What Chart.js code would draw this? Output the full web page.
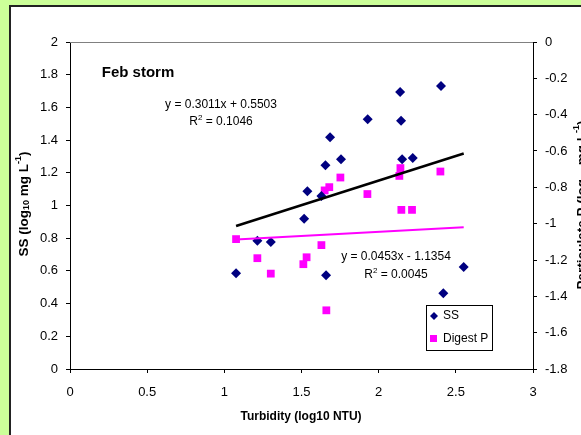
<!DOCTYPE html>
<html>
<head>
<meta charset="utf-8">
<script src="https://cdn.jsdelivr.net/npm/chart.js@4/dist/chart.umd.min.js"></script>
<style>
  html, body { margin: 0; padding: 0; background: #ccff99; }
  #wrap { width: 581px; height: 435px; }
</style>
</head>
<body>
<div id="wrap"><canvas id="chart" width="581" height="435"></canvas></div>
<script>
// ---------- Data ----------
const ssTurb = [2.404, 2.139, 1.929, 2.145, 1.685, 1.756, 2.152, 2.221, 1.655, 1.538,
                1.629, 1.517, 1.214, 1.301, 1.076, 1.659, 2.551, 2.419];
const ssLog  = [1.731, 1.694, 1.527, 1.519, 1.417, 1.283, 1.283, 1.290, 1.246, 1.087,
                1.058, 0.919, 0.785, 0.777, 0.585, 0.573, 0.624, 0.463];

const pTurb = [2.141, 2.134, 2.400, 1.752, 1.680, 1.650, 1.927, 2.147,
               2.216, 1.076, 1.214, 1.301, 1.629, 1.533, 1.512, 1.661];
const pLog  = [-0.694, -0.737, -0.713, -0.746, -0.799, -0.817, -0.837, -0.924,
               -0.924, -1.085, -1.190, -1.275, -1.118, -1.185, -1.223, -1.477];

// trendline coefficients as printed on the chart
const ssFit = { slope: 0.3011, icpt: 0.5503, r2: "0.1046" };
const pFit  = { slope: 0.0453, icpt: -1.1354, r2: "0.0045" };
const fitX  = [1.076, 2.551]; // trendlines span the turbidity range

const xTickStep = 0.5;
const seriesNames = ["SS", "Digest P"];

const FONT = 'Arial, "Liberation Sans", sans-serif';
const NAVY = "#000080";
const PINK = "#ff00ff";

function pts(xs, ys) { return xs.map((x, i) => ({ x: x, y: ys[i] })); }
function fitLine(f) { return fitX.map(x => ({ x: x, y: f.slope * x + f.icpt })); }

// ---------- Text helpers ----------
function richWidth(ctx, parts) {
  let w = 0;
  parts.forEach(p => {
    ctx.font = (p.bold ? "bold " : "") + p.size + "px " + FONT;
    w += ctx.measureText(p.t).width;
  });
  return w;
}
function drawRich(ctx, parts, cx, cy, rot) {
  ctx.save();
  ctx.translate(cx, cy);
  if (rot) ctx.rotate(rot);
  const w = richWidth(ctx, parts);
  let x = -w / 2;
  ctx.fillStyle = "#000";
  ctx.textBaseline = "middle";
  ctx.textAlign = "left";
  parts.forEach(p => {
    ctx.font = (p.bold ? "bold " : "") + p.size + "px " + FONT;
    ctx.fillText(p.t, x, p.dy || 0);
    x += ctx.measureText(p.t).width;
  });
  ctx.restore();
}
function unitTitle(name) {
  return [
    { t: name + " (log", size: 13.5, bold: true },
    { t: "10", size: 9, bold: true, dy: 3 },
    { t: " mg L", size: 13.5, bold: true },
    { t: "-1", size: 9, bold: true, dy: -5 },
    { t: ")", size: 13.5, bold: true }
  ];
}

// ---------- Frame + annotations ----------
const decor = {
  id: "decor",
  beforeDraw(chart) {
    const ctx = chart.ctx;
    ctx.save();
    ctx.fillStyle = "#ccff99";
    ctx.fillRect(0, 0, 581, 435);
    ctx.fillStyle = "#fff";
    ctx.fillRect(9, 5, 600, 460);
    ctx.strokeStyle = "#222";
    ctx.lineWidth = 2;
    ctx.strokeRect(10, 6, 600, 460);
    ctx.restore();
  },
  afterDraw(chart) {
    const ctx = chart.ctx;
    const a = chart.chartArea;
    ctx.save();
    // plot area top edge
    ctx.strokeStyle = "#808080";
    ctx.lineWidth = 1;
    ctx.beginPath();
    ctx.moveTo(a.left, a.top + 0.5);
    ctx.lineTo(a.right, a.top + 0.5);
    ctx.stroke();

    // axis titles
    drawRich(ctx, [{ t: "Turbidity (log10 NTU)", size: 12, bold: true }], 301, 417, 0);
    drawRich(ctx, unitTitle("SS"), 24, 204, -Math.PI / 2);
    drawRich(ctx, unitTitle("Particulate P"), 582, 205, -Math.PI / 2);

    // panel label
    drawRich(ctx, [{ t: "Feb storm", size: 15, bold: true }], 138, 73, 0);

    // trendline equations
    const eq = (f) => "y = " + f.slope.toFixed(4) + "x " + (f.icpt < 0 ? "- " : "+ ") + Math.abs(f.icpt).toFixed(4);
    drawRich(ctx, [{ t: eq(ssFit), size: 12 }], 221, 105, 0);
    drawRich(ctx, [{ t: "R", size: 12 }, { t: "2", size: 8, dy: -4 }, { t: " = " + ssFit.r2, size: 12 }], 221, 122, 0);
    drawRich(ctx, [{ t: eq(pFit), size: 12 }], 396, 257, 0);
    drawRich(ctx, [{ t: "R", size: 12 }, { t: "2", size: 8, dy: -4 }, { t: " = " + pFit.r2, size: 12 }], 396, 275, 0);

    // legend box
    ctx.fillStyle = "#fff";
    ctx.fillRect(426, 305, 66, 45);
    ctx.strokeStyle = "#000";
    ctx.lineWidth = 1;
    ctx.strokeRect(426.5, 305.5, 66, 45);
    ctx.fillStyle = NAVY;
    ctx.beginPath();
    ctx.moveTo(434, 312); ctx.lineTo(438, 316); ctx.lineTo(434, 320); ctx.lineTo(430, 316);
    ctx.closePath(); ctx.fill();
    ctx.fillStyle = PINK;
    ctx.fillRect(430, 335, 7, 7);
    ctx.fillStyle = "#000";
    ctx.font = "12px " + FONT;
    ctx.textBaseline = "middle";
    ctx.fillText(seriesNames[0], 443, 316);
    ctx.fillText(seriesNames[1], 443, 339);
    ctx.restore();
  }
};

function fmt(v) { return String(Number(v.toFixed(1))); }

const tickFont = { family: FONT, size: 13 };
function axisGrid() {
  return { drawOnChartArea: false, drawTicks: true, tickLength: 4, color: "#000" };
}

new Chart(document.getElementById("chart").getContext("2d"), {
  data: {
    datasets: [
      { type: "line", label: "SS trend", data: fitLine(ssFit), yAxisID: "y",
        borderColor: "#000", borderWidth: 2.5, pointRadius: 0, fill: false, order: 0 },
      { type: "line", label: "P trend", data: fitLine(pFit), yAxisID: "y2",
        borderColor: PINK, borderWidth: 2, pointRadius: 0, fill: false, order: 0 },
      { type: "scatter", label: seriesNames[0], data: pts(ssTurb, ssLog), yAxisID: "y",
        pointStyle: "rectRot", pointRadius: 5, backgroundColor: NAVY, borderColor: NAVY, borderWidth: 0, order: 1 },
      { type: "scatter", label: seriesNames[1], data: pts(pTurb, pLog), yAxisID: "y2",
        pointStyle: "rect", pointRadius: 5.5, backgroundColor: PINK, borderColor: PINK, borderWidth: 0, order: 1 }
    ]
  },
  options: {
    responsive: false,
    animation: false,
    devicePixelRatio: 1,
    layout: { padding: { top: 42, left: 0, right: 0, bottom: 0 } },
    plugins: { legend: { display: false }, tooltip: { enabled: false } },
    scales: {
      x: {
        type: "linear", position: "bottom", min: 0, max: 3,
        ticks: { stepSize: xTickStep, font: tickFont, color: "#000", padding: 12, callback: fmt },
        grid: axisGrid(),
        border: { color: "#000", width: 1 },
        afterFit(s) { s.height = 66; }
      },
      y: {
        type: "linear", position: "left", min: 0, max: 2,
        ticks: { stepSize: 0.2, font: tickFont, color: "#000", padding: 8, callback: fmt },
        grid: axisGrid(),
        border: { color: "#000", width: 1 },
        afterFit(s) { s.width = 70; }
      },
      y2: {
        type: "linear", position: "right", min: -1.8, max: 0,
        ticks: { stepSize: 0.2, font: tickFont, color: "#000", padding: 8, callback: fmt },
        grid: axisGrid(),
        border: { color: "#000", width: 1 },
        afterFit(s) { s.width = 48; }
      }
    }
  },
  plugins: [decor]
});
</script>
</body>
</html>
